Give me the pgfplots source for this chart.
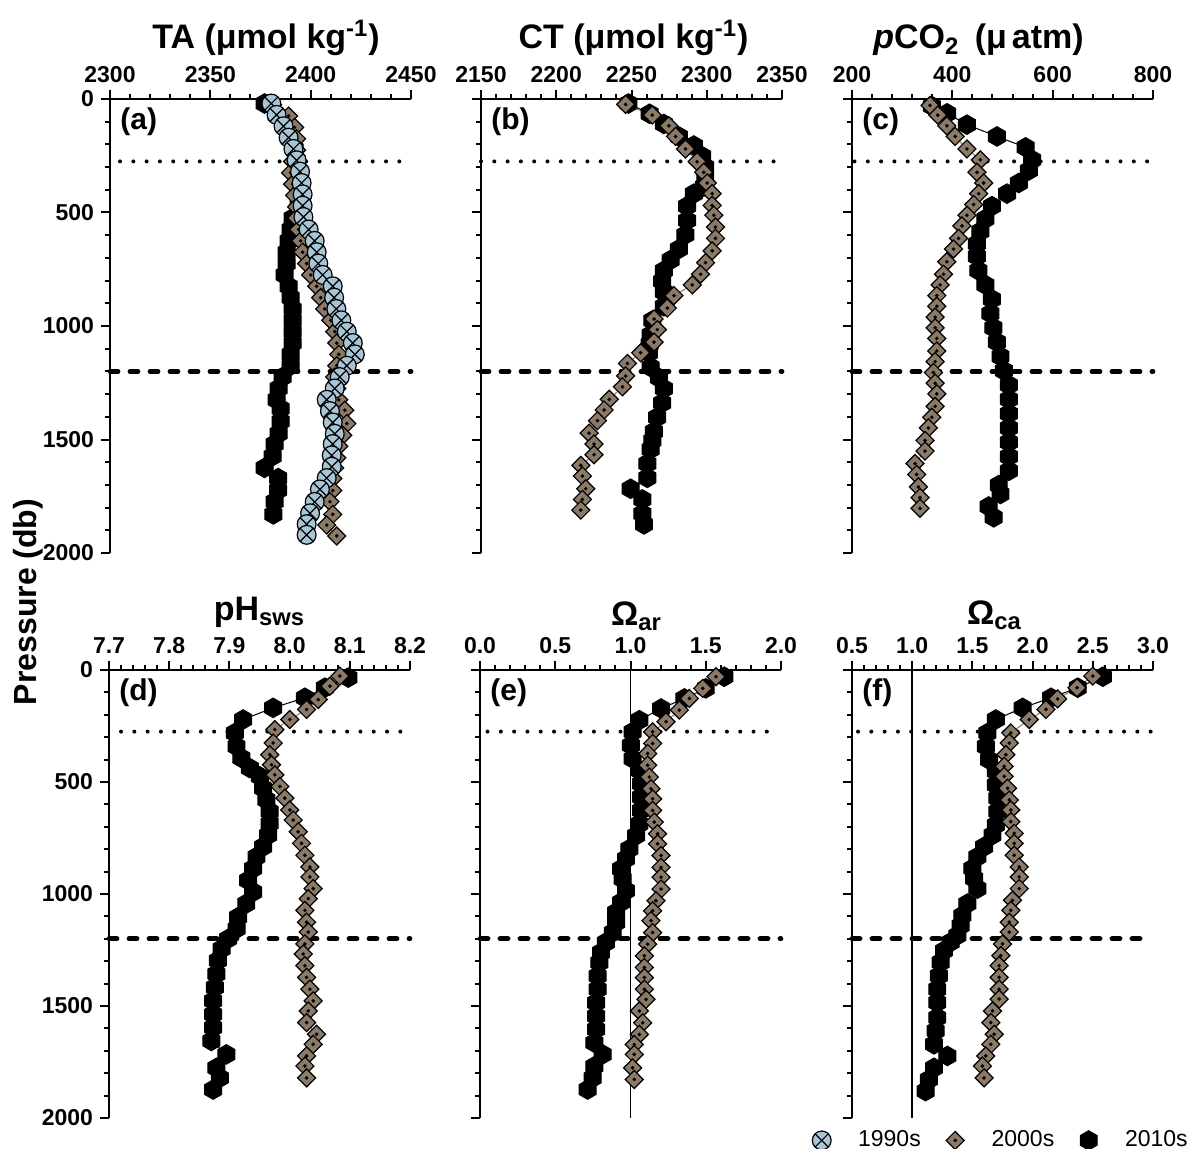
\documentclass[border=0pt]{standalone}
\usepackage{fontspec}
\setmainfont{Liberation Sans}
\usepackage{pgfplots}
\pgfplotsset{compat=1.18}
\usetikzlibrary{plotmarks}

\definecolor{lblue}{HTML}{A9C5D5}
\definecolor{brn}{HTML}{8B7A67}

% filled hexagon, pointed at top and bottom
\pgfdeclareplotmark{hex*}{%
  \pgfpathmoveto{\pgfpointpolar{90}{\pgfplotmarksize}}%
  \pgfpathlineto{\pgfpointpolar{150}{\pgfplotmarksize}}%
  \pgfpathlineto{\pgfpointpolar{210}{\pgfplotmarksize}}%
  \pgfpathlineto{\pgfpointpolar{270}{\pgfplotmarksize}}%
  \pgfpathlineto{\pgfpointpolar{330}{\pgfplotmarksize}}%
  \pgfpathlineto{\pgfpointpolar{30}{\pgfplotmarksize}}%
  \pgfpathclose
  \pgfusepathqfillstroke
}
% filled diamond with a black dot in its centre
\pgfdeclareplotmark{ddot}{%
  \pgfpathmoveto{\pgfqpoint{0pt}{\pgfplotmarksize}}%
  \pgfpathlineto{\pgfqpoint{\pgfplotmarksize}{0pt}}%
  \pgfpathlineto{\pgfqpoint{0pt}{-\pgfplotmarksize}}%
  \pgfpathlineto{\pgfqpoint{-\pgfplotmarksize}{0pt}}%
  \pgfpathclose
  \pgfusepathqfillstroke
  \begin{pgfscope}%
    \pgfsetfillcolor{black}%
    \pgfpathcircle{\pgfpointorigin}{0.22\pgfplotmarksize}%
    \pgfusepathqfill
  \end{pgfscope}%
}

\tikzset{
  ttl/.style={anchor=base, font=\fontsize{17}{20}\selectfont\bfseries},
  plab/.style={anchor=north west, inner sep=0pt, font=\fontsize{15}{17}\selectfont\bfseries},
}

\pgfplotsset{
  panel/.style={
    scale only axis, width=150.5pt, clip=false,
    y dir=reverse, ymin=0, ymax=2000,
    ytick={0,500,1000,1500,2000}, minor y tick num=4,
    minor x tick num=4,
    axis x line*=top, axis y line*=left,
    axis line style={line width=1.3pt},
    tick align=outside,
    major tick length=4.5pt, minor tick length=2.5pt,
    every tick/.style={black, line width=1pt},
    tick label style={font=\fontsize{11.5}{13}\selectfont\bfseries},
    yticklabels={},
  },
  ylab/.style={yticklabels={0,500,1000,1500,2000}},
  s90/.style={black, line width=0.5pt, mark=otimes*, mark size=4.7pt,
    mark options={fill=lblue, draw=black, line width=0.6pt}},
  s00/.style={brn, line width=0.5pt, mark=ddot, mark size=4.5pt,
    mark options={fill=brn, draw=black, line width=0.6pt}},
  s10/.style={black, line width=0.5pt, mark=hex*, mark size=4.9pt,
    mark options={fill=black, draw=black}},
  refdot/.style={black, line width=2pt, dash pattern=on 0pt off 6.65pt, line cap=round},
  refdash/.style={black, line width=2.4pt, dash pattern=on 4pt off 6pt, line cap=round},
}

\begin{document}
\begin{tikzpicture}
\useasboundingbox (0pt,0pt) rectangle (595pt,-574.5pt);

% ---------------- (a) TA ----------------
\begin{axis}[panel, ylab, at={(55pt,-49.5pt)}, anchor=north west, height=227pt,
  xmin=2300, xmax=2450, xtick={2300,2350,2400,2450},
  xticklabels={2300,2350,2400,2450}]
\addplot[refdot] coordinates {(2305,275) (2448,275)};
\addplot[refdash] coordinates {(2300,1200) (2450,1200)};
\addplot[s10] coordinates {
(2377,20) (2383,70) (2387,120) (2390,170) (2392,220) (2393,270) (2394,320)
(2395,370) (2395,420) (2394,470) (2391,525) (2390,575) (2389,625) (2388,675)
(2388,725) (2387,775) (2389,825) (2390,875) (2391,925) (2391,975) (2391,1025)
(2391,1075) (2390,1125) (2390,1175) (2386,1225) (2384,1275) (2383,1325)
(2385,1364) (2385,1420) (2384,1474) (2382,1520) (2381,1574) (2377,1625)
(2383.8,1670) (2383.8,1723) (2382,1774) (2381.4,1830)};
\addplot[s00] coordinates {
(2381,25) (2389,75) (2392,125) (2393,175) (2393,225) (2391,275) (2390,325)
(2391,375) (2392,425) (2393,475) (2393,525) (2394,575) (2395,625) (2396,675)
(2398,725) (2400,775) (2403,825) (2405,875) (2407,925) (2410,975) (2412,1025)
(2413,1075) (2414,1125) (2413,1175) (2412,1225) (2413,1275) (2414,1325)
(2417,1371) (2418,1430) (2416,1481) (2414,1530) (2413,1580) (2412,1625)
(2411,1672) (2411,1725) (2409.6,1774) (2411,1830) (2408,1877) (2413,1925)};
\addplot[s90] coordinates {
(2380.4,20) (2383,70) (2386.5,120) (2389,170) (2391.4,220) (2393,270)
(2394.7,320) (2395.5,370) (2396,420) (2396,470) (2396.4,520) (2399,575)
(2402,625) (2403,675) (2403.8,725) (2406,775) (2411,825) (2411.7,875)
(2412.8,925) (2415.3,975) (2418,1025) (2421,1075) (2422,1125) (2418,1175)
(2414.5,1225) (2412,1275) (2408,1325) (2409.6,1375) (2411,1425) (2412,1475)
(2411,1520) (2410.5,1570) (2410.5,1620) (2408,1670) (2404.6,1720) (2402,1775)
(2399.7,1825) (2398,1873) (2398,1920)};
\node[ttl] at (axis description cs:0.5,1) [xshift=2.75pt, yshift=25pt]
  {TA (μmol kg\textsuperscript{-1})};
\node[plab] at (axis description cs:0,1) [xshift=5pt, yshift=-4pt] {(a)};
\end{axis}

% ---------------- (b) CT ----------------
\begin{axis}[panel, at={(240.5pt,-49.5pt)}, anchor=north west, height=227pt,
  xmin=2150, xmax=2350, xtick={2150,2200,2250,2300,2350},
  xticklabels={2150,2200,2250,2300,2350}]
\addplot[refdot] coordinates {(2150,275) (2347,275)};
\addplot[refdash] coordinates {(2150,1200) (2350,1200)};
\addplot[s10] coordinates {
(2248,20) (2262,65) (2271.5,110) (2281.5,165) (2291.4,205) (2297,252)
(2299,299) (2299,346) (2298,386) (2291.4,417) (2286.9,472) (2286.9,535)
(2285.8,598) (2281.5,661) (2276,709) (2271.5,756) (2270.4,803) (2271.5,850)
(2271.5,913) (2263.8,976) (2262.7,1039) (2262,1080) (2261.6,1118)
(2262.7,1181) (2268.2,1228) (2271.5,1276) (2270.4,1339) (2267.1,1402)
(2264.9,1465) (2263.8,1505) (2262.7,1543) (2260.5,1606) (2260.5,1669)
(2249.4,1717) (2257.2,1764) (2257.2,1827) (2258.3,1874)};
\addplot[s00] coordinates {
(2246.1,24) (2263.8,71) (2274.8,118) (2279.3,165) (2285.9,220) (2293.6,276)
(2298,323) (2300.3,370) (2303.6,417) (2303.6,469) (2304.7,512) (2305.8,564)
(2305.8,614) (2303.6,669) (2299.2,721) (2295.9,772) (2290.4,819)
(2278.2,866) (2273.8,921) (2265,969) (2267.2,1016) (2265,1071) (2256.1,1118)
(2247.3,1165) (2246.1,1220) (2244,1268) (2235.2,1323) (2231.8,1370)
(2227.4,1417) (2221.8,1472) (2225.1,1520) (2225.1,1567) (2216.3,1614)
(2217.4,1661) (2219.6,1717) (2217.4,1764) (2216.3,1811)};
\node[ttl] at (axis description cs:0.5,1) [xshift=1pt, yshift=25pt]
  {CT (μmol kg\textsuperscript{-1})};
\node[plab] at (axis description cs:0,1) [xshift=5pt, yshift=-4pt] {(b)};
\end{axis}

% ---------------- (c) pCO2 ----------------
\begin{axis}[panel, at={(426pt,-49.5pt)}, anchor=north west, height=227pt,
  xmin=200, xmax=800, xtick={200,400,600,800},
  xticklabels={200,400,600,800}]
\addplot[refdot] coordinates {(205,275) (795,275)};
\addplot[refdash] coordinates {(200,1200) (800,1200)};
\addplot[s10] coordinates {
(359,31) (389.5,63) (429,113) (489,165) (546,213) (559,268) (552.5,315)
(532.5,370) (509,417) (479,472) (466,528) (456,583) (449,638) (449,693)
(452,756) (466,819) (479,882) (476,945) (482,1008) (489,1071) (496,1134)
(502.7,1197) (512.7,1260) (512.7,1323) (512.7,1386) (512.7,1449)
(512.7,1512) (512.7,1575) (512.7,1638) (492.5,1701) (496,1740)
(472.5,1795) (482.5,1843)};
\addplot[s00] coordinates {
(355.6,28) (371,71) (389,118) (405.7,165) (429.1,220) (455.8,268)
(449.2,323) (462.5,370) (452.5,417) (442.5,465) (429.1,512) (419.1,559)
(412.4,614) (402.4,661) (389,717) (382.4,772) (375.7,819) (369,866)
(369,913) (365.7,961) (365.7,1008) (369,1055) (369,1110) (365.7,1157)
(362.3,1205) (365.7,1252) (369,1299) (365.7,1354) (359,1402) (352.3,1449)
(345.6,1504) (345.6,1551) (325.6,1606) (328.9,1654) (332.3,1709)
(335.6,1756) (335.6,1803)};
\node[ttl] at (axis description cs:0.5,1) [xshift=-12pt, yshift=25pt]
  {\textit{p}CO\textsubscript{2}\hspace{3pt} (μ\hspace{2.5pt}atm)};
\node[plab] at (axis description cs:0,1) [xshift=5pt, yshift=-4pt] {(c)};
\end{axis}

% ---------------- (d) pH ----------------
\begin{axis}[panel, ylab, at={(54.5pt,-335pt)}, anchor=north west, height=224pt,
  xmin=7.7, xmax=8.2, xtick={7.7,7.8,7.9,8.0,8.1,8.2},
  xticklabels={7.7,7.8,7.9,8.0,8.1,8.2}]
\addplot[refdot] coordinates {(7.72,275) (8.19,275)};
\addplot[refdash] coordinates {(7.7,1200) (8.2,1200)};
\addplot[s10] coordinates {
(8.0975,34) (8.0587,79) (8.0254,124) (7.9727,169) (7.9228,221) (7.909,281)
(7.9118,341) (7.920,393) (7.934,438) (7.9506,475) (7.956,528) (7.9616,580)
(7.967,632) (7.967,685) (7.9644,737) (7.956,789) (7.945,834) (7.9395,886)
(7.931,939) (7.9395,991) (7.928,1043) (7.9145,1103) (7.912,1155)
(7.898,1200) (7.887,1245) (7.881,1297) (7.8785,1357) (7.8757,1417)
(7.873,1477) (7.873,1537) (7.873,1596) (7.870,1656) (7.895,1716)
(7.8785,1776) (7.884,1821) (7.873,1873)};
\addplot[s00] coordinates {
(8.0836,27) (8.067,72) (8.0476,132) (8.0282,176) (8.0004,221) (7.9755,266)
(7.9727,326) (7.967,378) (7.970,423) (7.9755,468) (7.9838,520) (7.992,572)
(8.0004,625) (8.006,670) (8.0143,722) (8.0198,774) (8.0254,827) (8.0337,879)
(8.0337,924) (8.0392,976) (8.031,1021) (8.0254,1073) (8.0282,1126)
(8.031,1170) (8.0254,1223) (8.0226,1268) (8.0254,1320) (8.0282,1372)
(8.0337,1425) (8.0392,1477) (8.031,1522) (8.0282,1574) (8.0448,1626)
(8.0392,1671) (8.0282,1723) (8.0254,1768) (8.0282,1821)};
\node[ttl] at (axis description cs:0.5,1) [yshift=25pt]
  {pH\textsubscript{sws}};
\node[plab] at (axis description cs:0,1) [xshift=5pt, yshift=-4pt] {(d)};
\end{axis}

% ---------------- (e) Omega aragonite ----------------
\begin{axis}[panel, at={(240pt,-335pt)}, anchor=north west, height=224pt,
  xmin=0, xmax=2, xtick={0,0.5,1,1.5,2},
  xticklabels={0.0,0.5,1.0,1.5,2.0}]
\addplot[refdot] coordinates {(0.05,275) (1.96,275)};
\addplot[refdash] coordinates {(0,1200) (2,1200)};
\addplot[black, line width=0.8pt] coordinates {(1,0) (1,2000)};
\addplot[s10] coordinates {
(1.623,30) (1.50,82) (1.358,127) (1.203,172) (1.059,224) (1.014,276)
(1.003,336) (1.014,396) (1.059,448) (1.070,507) (1.070,567) (1.070,627)
(1.059,687) (1.037,739) (0.992,799) (0.970,843) (0.937,888) (0.948,933)
(0.970,985) (0.937,1037) (0.904,1082) (0.904,1127) (0.882,1172)
(0.837,1216) (0.804,1261) (0.793,1306) (0.782,1366) (0.782,1425)
(0.771,1485) (0.771,1545) (0.771,1604) (0.760,1664) (0.815,1716)
(0.760,1769) (0.749,1821) (0.715,1873)};
\addplot[s00] coordinates {
(1.568,30) (1.480,82) (1.391,127) (1.324,179) (1.236,231) (1.147,276)
(1.147,328) (1.114,373) (1.114,425) (1.125,478) (1.136,530) (1.147,575)
(1.147,627) (1.158,679) (1.180,731) (1.180,776) (1.203,828) (1.203,881)
(1.203,925) (1.203,978) (1.169,1030) (1.147,1075) (1.136,1119) (1.147,1172)
(1.114,1224) (1.092,1276) (1.092,1328) (1.092,1373) (1.092,1425)
(1.103,1470) (1.059,1522) (1.081,1575) (1.059,1627) (1.025,1672)
(1.025,1716) (1.014,1776) (1.025,1828)};
\node[ttl] at (axis description cs:0.5,1) [xshift=3pt, yshift=22.5pt]
  {Ω\textsubscript{ar}};
\node[plab] at (axis description cs:0,1) [xshift=5pt, yshift=-4pt] {(e)};
\end{axis}

% ---------------- (f) Omega calcite ----------------
\begin{axis}[panel, at={(426pt,-335pt)}, anchor=north west, height=224pt,
  xmin=0.5, xmax=3, xtick={0.5,1,1.5,2,2.5,3},
  xticklabels={0.5,1.0,1.5,2.0,2.5,3.0},
  legend columns=3,
  legend style={at={(axis description cs:1.13,-0.05)}, anchor=east,
    draw=none, fill=none, inner sep=0pt,
    font=\fontsize{11.5}{13}\selectfont},
  legend image code/.code={%
    \path (0pt,0pt) (31pt,0pt);
    \draw[#1] plot coordinates {(15pt,0pt)};}]
\addlegendimage{only marks, mark=otimes*, mark size=4.7pt,
  mark options={fill=lblue, draw=black, line width=0.6pt}}
\addlegendentry{1990s}
\addlegendimage{only marks, mark=ddot, mark size=4.5pt,
  mark options={fill=brn, draw=black, line width=0.6pt}}
\addlegendentry{2000s}
\addlegendimage{only marks, mark=hex*, mark size=4.9pt,
  mark options={fill=black, draw=black}}
\addlegendentry{2010s}
\addplot[refdot, forget plot] coordinates {(0.55,275) (2.99,275)};
\addplot[refdash, forget plot] coordinates {(0.5,1200) (2.97,1200)};
\addplot[black, line width=0.8pt, forget plot] coordinates {(1,0) (1,2000)};
\addplot[s10, forget plot] coordinates {
(2.583,30) (2.375,79) (2.153,124) (1.917,169) (1.694,221) (1.625,281)
(1.611,341) (1.639,401) (1.694,453) (1.694,513) (1.708,572) (1.708,632)
(1.694,692) (1.667,737) (1.597,789) (1.542,834) (1.5,886) (1.514,931)
(1.542,976) (1.458,1043) (1.417,1096) (1.403,1141) (1.375,1185)
(1.319,1215) (1.264,1253) (1.236,1305) (1.222,1365) (1.208,1425)
(1.208,1484) (1.208,1552) (1.194,1611) (1.181,1671) (1.292,1723)
(1.181,1776) (1.139,1828) (1.111,1880)};
\addplot[s00, forget plot] coordinates {
(2.5,27) (2.369,79) (2.208,129) (2.111,176) (1.972,221) (1.819,281)
(1.806,326) (1.778,378) (1.764,430) (1.764,475) (1.792,528) (1.806,580)
(1.819,625) (1.819,677) (1.847,729) (1.847,774) (1.847,827) (1.889,879)
(1.889,924) (1.889,976) (1.833,1028) (1.819,1073) (1.806,1126) (1.806,1170)
(1.75,1223) (1.736,1275) (1.722,1320) (1.722,1372) (1.722,1425)
(1.722,1469) (1.667,1522) (1.653,1574) (1.681,1626) (1.653,1671)
(1.611,1723) (1.583,1768) (1.597,1821)};
\node[ttl] at (axis description cs:0.5,1) [xshift=-4pt, yshift=23pt]
  {Ω\textsubscript{ca}};
\node[plab] at (axis description cs:0,1) [xshift=5pt, yshift=-4pt] {(f)};
\end{axis}

\node[rotate=90, font=\fontsize{16}{18}\selectfont\bfseries]
  at (14pt,-301pt) {Pressure (db)};
\end{tikzpicture}
\end{document}
